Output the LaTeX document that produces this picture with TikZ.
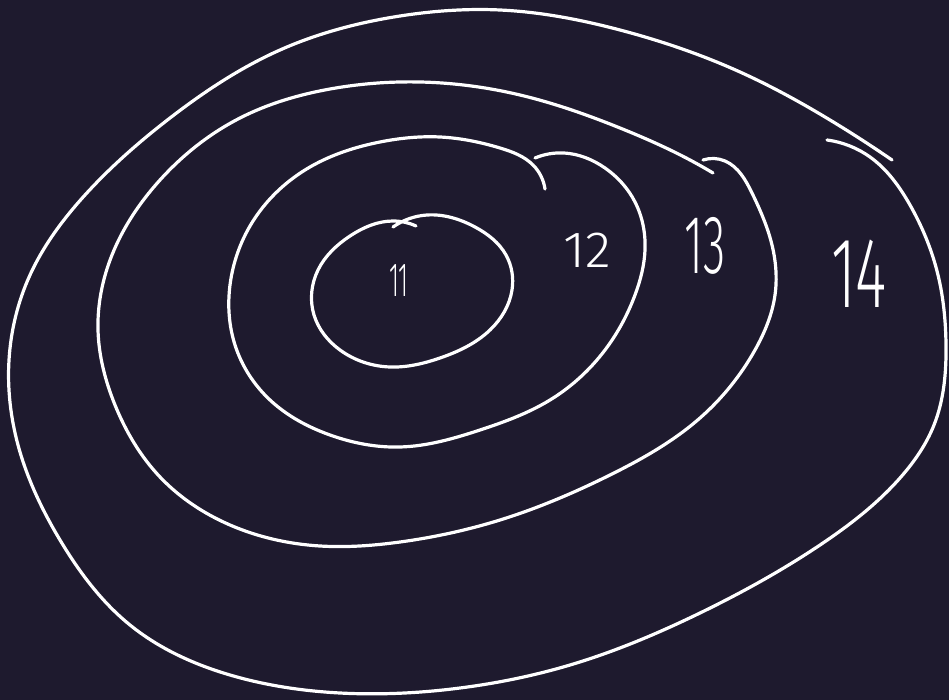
\documentclass[tikz,border=0pt]{standalone}
\usepackage{fontspec}
\usetikzlibrary{hobby}
\newfontfamily\hand{Fira Sans Light}
\definecolor{bgc}{RGB}{30,26,46}
\tikzset{
  ring/.style={draw=white, line width=3.2pt, line cap=round, line join=round, use Hobby shortcut},
  lbl/.style={text=white, inner sep=0pt, anchor=center}
}
\begin{document}
\begin{tikzpicture}[x=1pt,y=-1pt]
\fill[bgc] (0,0) rectangle (949,700);
\useasboundingbox (0,0) rectangle (949,700);

% ring 4 (outermost)
\draw[ring] (827,140) .. (870,157) .. (910,205) .. (938,275) .. (946,345)
 .. (934,425) .. (900,478) .. (820,545) .. (700,613) .. (570,665)
 .. (460,688) .. (340,693) .. (230,675) .. (130,625) .. (60,540)
 .. (18,445) .. (9,360) .. (30,275) .. (85,195) .. (170,118) .. (280,50)
 .. (400,16) .. (500,10) .. (620,30) .. (740,72) .. (830,120) .. (892,160);

% ring 3
\draw[ring] (703,160) .. (725,161) .. (752,193) .. (772,245) .. (775,295)
 .. (755,350) .. (700,418) .. (610,475) .. (500,520) .. (400,542)
 .. (320,546) .. (230,525) .. (160,477) .. (115,405) .. (98,330)
 .. (112,255) .. (160,180) .. (240,118) .. (330,89) .. (420,82)
 .. (520,95) .. (620,128) .. (690,160) .. (713,173);

% ring 2
\draw[ring] (535,158) .. (564,153) .. (605,168) .. (635,202) .. (645,250)
 .. (635,295) .. (605,350) .. (550,400) .. (480,430) .. (400,447)
 .. (330,435) .. (270,400) .. (235,345) .. (230,285) .. (255,218)
 .. (310,167) .. (380,142) .. (440,137) .. (500,148) .. (533,165)
 .. (545,189);

% ring 1 (inner)
\draw[ring] (393,227) .. (427,215) .. (475,227) .. (506,255) .. (512,290)
 .. (490,330) .. (440,358) .. (390,367) .. (340,350) .. (314,315)
 .. (318,270) .. (350,236) .. (393,221) .. (416,226);

% labels
\node[lbl, font=\hand\fontsize{48}{48}\selectfont, xscale=0.5] (l11) at (399,281) {11};
\node[lbl, font=\hand\fontsize{51}{51}\selectfont, xscale=1.05] (l12) at (587,250) {12};
\node[lbl, font=\hand\fontsize{83}{83}\selectfont, xscale=0.55] (l13) at (705,246) {13};
\node[lbl, font=\hand\fontsize{100}{100}\selectfont, xscale=0.6] (l14) at (859,274) {14};
\end{tikzpicture}
\end{document}
